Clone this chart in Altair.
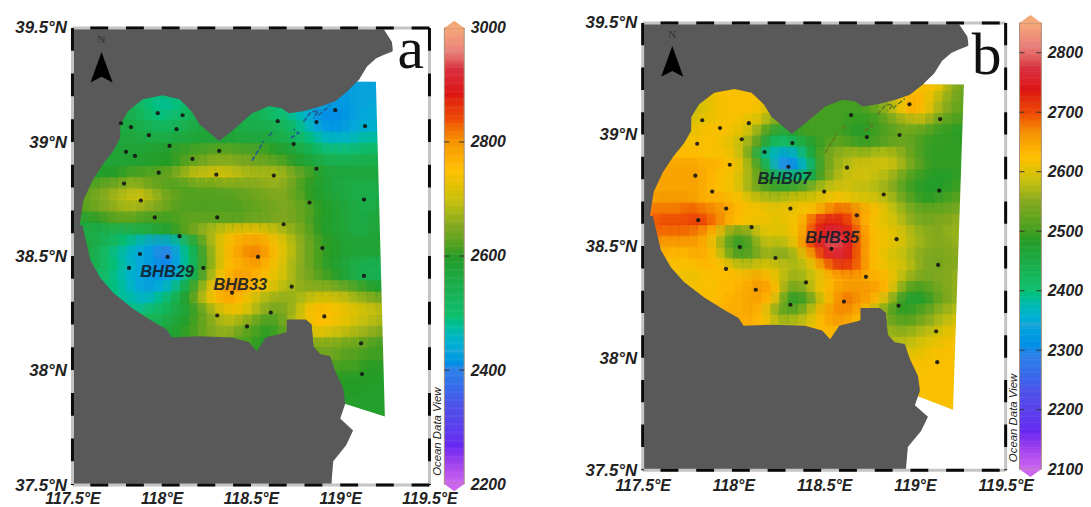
import altair as alt
import pandas as pd

FONT = "Liberation Sans"
LAND = "#595959"

# ---- gridded values (tens of metres), rows: (lat, first lon, values every 0.05 deg)
GRID_A = [
 (39.25,119.00,[243,243,243,243,243,244,244]),
 (39.20,117.90,[250,249,249,250,251]),
 (39.20,119.00,[242,242,243,243,243,244,244]),
 (39.15,117.80,[254,253,251,249,248,248,249,251,253]),
 (39.15,118.55,[252,250,249,248,246,245,244,243,242,242,242,243,243,244,244,245]),
 (39.10,117.75,[256,256,254,252,250,249,250,251,253,255,256,256,256,256,255,254,254,252,251,250,248,246,243,241,241,241,242,243,244,244,245,245]),
 (39.05,117.75,[256,256,256,255,254,253,253,254,255,256,257,257,257,257,256,255,255,255,254,253,251,248,245,243,242,242,243,244,245,245,246,246]),
 (39.00,117.70,[257,257,257,257,256,256,256,256,257,257,258,258,258,258,258,257,257,257,257,256,255,253,251,249,247,246,246,246,247,248,248,249,249]),
 (38.95,117.70,[258,258,258,258,258,259,259,260,261,261,262,262,263,263,263,262,262,262,261,260,259,258,256,254,252,250,250,250,251,252,252,253,253]),
 (38.90,117.65,[258,258,258,258,259,259,259,260,260,261,263,264,265,266,266,266,265,265,264,264,263,262,260,259,257,256,255,255,255,255,255,255,256,256]),
 (38.85,117.60,[258,259,260,260,261,262,262,263,263,264,266,268,270,270,271,271,270,269,268,268,268,268,267,265,263,261,259,258,257,257,257,257,257,257,257]),
 (38.80,117.60,[262,263,264,265,266,267,266,264,263,262,262,262,263,263,263,264,264,264,265,265,266,266,265,263,261,260,258,257,256,256,255,255,255,256,256]),
 (38.75,117.55,[262,264,265,266,268,269,270,270,268,266,264,263,262,262,262,262,262,262,263,263,264,264,265,265,263,262,260,259,258,257,256,255,255,255,256,256]),
 (38.70,117.55,[262,263,264,265,266,267,267,266,265,264,263,262,262,262,262,262,262,262,262,263,263,264,264,265,264,263,262,260,259,258,257,256,255,256,257,257]),
 (38.65,117.55,[258,259,260,261,262,262,262,261,261,261,261,262,263,263,263,263,263,263,263,264,264,264,265,265,264,263,261,260,259,258,257,256,256,257,258,258]),
 (38.60,117.55,[256,255,254,254,253,253,254,255,256,257,259,261,263,265,267,269,271,273,274,274,274,272,270,268,266,264,262,260,259,258,257,256,256,257,258,258]),
 (38.55,117.60,[257,255,253,251,249,247,245,243,243,244,247,252,258,264,269,273,276,278,279,279,277,274,271,268,265,263,261,260,259,258,258,258,258,259,259]),
 (38.50,117.60,[256,253,250,248,246,244,243,242,240,240,244,249,255,262,268,273,277,279,281,281,278,274,271,268,265,263,261,260,259,258,257,257,257,258,258]),
 (38.45,117.65,[254,251,249,247,245,243,242,241,241,244,249,255,262,268,273,276,277,278,278,276,273,270,267,265,263,261,259,258,256,255,254,254,254,255]),
 (38.40,117.70,[250,248,246,244,243,242,242,243,246,251,257,264,270,275,278,279,278,276,274,272,270,267,265,264,262,261,259,257,255,254,254,254,255]),
 (38.35,117.75,[249,247,245,243,243,245,247,251,257,263,269,275,279,280,279,276,274,272,270,268,267,266,266,266,266,265,264,262,261,260,259,259]),
 (38.30,117.80,[248,247,246,247,249,252,256,260,265,270,274,277,277,275,272,269,267,266,266,267,269,271,272,272,271,270,268,267,266,265,264]),
 (38.25,117.90,[250,251,252,254,256,258,261,264,268,271,273,272,270,267,265,264,265,268,272,275,276,275,274,273,272,271,270,269,268]),
 (38.20,118.00,[255,257,258,260,262,264,266,268,268,266,264,262,261,262,265,269,272,274,275,274,273,272,270,269,268,267,266]),
 (38.15,118.00,[256,258,259,261,262,264,265,266,265,263,262,261,260,261,263,266,268,270,271,270,269,268,267,266,265,264,263]),
 (38.10,118.50,[261,260,260,261,262,263,264,264,264,264,264,263,263,262,261,261,260]),
 (38.05,118.85,[264,264,264,263,262,262,261,261,261,260]),
 (38.00,118.90,[262,262,261,261,261,260,260,260,260]),
 (37.95,118.95,[260,260,260,260,260,260,259,259]),
 (37.90,119.00,[260,260,260,259,259,259,259]),
 (37.85,119.00,[259,259,259,259,259,259,259]),
 (37.80,119.10,[259,259,259,259,259]),
]
GRID_B = [
 (39.20,117.90,[261,262,262,262,262]),
 (39.20,119.00,[262,262,262,260,256,254,253]),
 (39.15,117.80,[259,260,261,262,262,262,262,262,260]),
 (39.15,118.55,[250,250,250,250,252,254,256,259,262,264,263,260,257,255,253,252]),
 (39.10,117.75,[258,259,260,261,262,262,262,262,261,259,257,255,253,252,251,250,250,250,250,250,251,253,256,259,262,264,262,259,256,254,252,252]),
 (39.05,117.75,[260,260,261,261,262,262,261,260,259,256,253,251,250,250,250,250,250,250,249,249,249,250,252,254,256,257,257,255,252,251,250,250]),
 (39.00,117.70,[261,261,261,262,262,262,261,260,258,254,249,246,246,248,250,250,250,250,250,249,248,249,250,251,252,253,252,251,250,249,249,248,248]),
 (38.95,117.70,[262,262,262,262,262,261,260,258,255,250,244,240,241,243,245,248,250,252,252,251,250,250,251,252,253,253,252,250,249,249,249,249,249]),
 (38.90,117.65,[263,263,263,263,262,262,262,261,258,252,243,238,235,233,236,241,247,252,255,256,257,257,257,258,258,257,255,252,250,249,249,249,249,250]),
 (38.85,117.60,[264,265,265,265,265,264,264,263,262,260,256,250,242,234,229,231,237,244,251,255,257,258,259,259,259,259,258,256,253,251,249,249,249,249,250]),
 (38.80,117.60,[265,265,265,265,265,264,263,262,261,259,256,252,247,243,241,241,243,247,252,256,258,259,259,259,258,257,255,252,250,249,248,248,248,249,250]),
 (38.75,117.55,[264,265,265,265,265,265,264,263,262,261,259,256,253,251,250,250,251,253,256,258,259,259,259,258,258,257,256,254,251,249,248,248,248,249,250,251]),
 (38.70,117.55,[265,266,266,266,266,265,264,264,264,263,262,260,259,258,258,259,260,260,260,261,262,262,261,260,260,259,258,256,253,251,249,249,250,251,252,252]),
 (38.65,117.55,[268,268,268,268,269,269,268,267,266,264,263,262,262,261,261,261,261,262,263,266,268,269,268,266,264,262,260,258,256,254,253,253,253,254,254,255]),
 (38.60,117.55,[268,270,270,270,270,271,270,268,266,263,262,261,261,261,260,261,262,265,270,274,274,273,270,266,263,261,260,259,257,255,254,254,255,255,256,256]),
 (38.55,117.60,[268,268,268,268,267,265,262,258,253,252,255,259,260,260,260,262,266,271,275,277,276,273,268,264,262,261,260,259,257,256,255,255,256,256,257]),
 (38.50,117.60,[265,265,265,265,265,264,260,255,250,249,251,256,258,257,258,261,267,272,276,279,278,274,268,264,262,261,260,259,257,256,255,255,255,256,257]),
 (38.45,117.65,[263,263,263,264,264,262,258,253,251,252,255,256,255,255,257,261,266,272,275,276,273,268,264,262,260,259,258,256,255,254,254,255,255,256]),
 (38.40,117.70,[262,262,262,263,263,262,261,259,259,260,260,259,258,257,258,261,265,269,271,270,268,264,262,261,260,259,257,255,254,254,255,255,256]),
 (38.35,117.75,[261,261,262,262,263,263,263,264,265,263,260,257,256,257,259,261,263,264,265,265,264,264,263,260,257,255,254,254,255,255,256,256]),
 (38.30,117.80,[262,262,262,263,263,264,265,266,265,262,255,253,255,259,262,264,266,266,266,266,265,263,258,253,250,250,252,254,255,256,257]),
 (38.25,117.90,[263,263,264,264,265,265,263,258,250,248,250,255,260,264,267,268,266,265,262,258,252,248,247,248,250,253,255,256,257]),
 (38.20,118.00,[264,264,265,263,259,254,252,253,256,260,264,266,267,266,264,261,257,253,250,249,250,252,254,256,257,258,258]),
 (38.15,118.00,[264,264,264,263,261,258,257,258,259,261,263,265,265,264,262,260,258,255,253,252,253,255,256,258,259,260,260]),
 (38.10,118.50,[263,263,262,261,260,259,258,257,256,256,257,258,259,260,261,261,262]),
 (38.05,118.85,[258,258,258,259,260,261,261,262,262,262]),
 (38.00,118.90,[260,260,261,261,262,262,262,262,262]),
 (37.95,118.95,[262,262,262,262,262,262,262,262]),
 (37.90,119.00,[262,262,262,262,262,262,262]),
 (37.85,119.00,[262,262,262,262,262,262,262]),
 (37.80,119.10,[262,262,262,262,262]),
]

STATIONS_A = [(117.772,39.083),(117.828,39.066),(117.978,39.127),(118.117,39.118),(118.083,39.057),(117.928,39.031),
 (118.044,38.984),(117.800,38.958),(117.850,38.940),(118.172,38.927),(118.322,38.962),(117.983,38.867),(118.306,38.858),
 (117.789,38.819),(117.883,38.745),(117.961,38.671),(118.311,38.671),(118.100,38.589),(117.878,38.511),(118.033,38.498),
 (118.539,38.498),(117.817,38.450),(118.233,38.450),(118.394,38.342),(118.311,38.242),(118.478,38.194),(118.650,39.092),
 (118.867,39.088),(118.972,39.140),(119.139,39.070),(118.739,38.992),(118.628,38.854),(118.867,38.884),(118.828,38.736),
 (119.133,38.749),(118.683,38.641),(118.900,38.537),(119.133,38.415),(118.728,38.368),(118.611,38.255),(118.911,38.238),
 (119.117,38.120),(119.122,37.986)]
STATIONS_B = [(117.828,39.065),(117.926,39.030),(118.085,39.052),(118.046,38.980),(117.800,38.960),(118.172,38.923),
 (118.325,38.963),(118.303,38.857),(117.980,38.866),(117.790,38.817),(117.883,38.746),(117.960,38.670),(118.314,38.670),
 (117.806,38.618),(118.100,38.587),(118.035,38.498),(118.232,38.449),(118.500,38.746),(118.648,39.088),(118.970,39.136),
 (119.139,39.070),(118.735,38.990),(118.915,38.999),(118.626,38.853),(118.828,38.733),(119.134,38.750),(118.680,38.640),
 (118.899,38.533),(118.540,38.490),(119.128,38.418),(118.730,38.365),(118.609,38.254),(118.910,38.236),(119.117,38.121),
 (119.123,37.983),(117.959,38.400),(118.123,38.307),(118.400,38.340),(118.314,38.240)]

LABELS_A = [("BHB29",118.03,38.43),("BHB33",118.44,38.376)]
LABELS_B = [("BHB07",118.28,38.80),("BHB35",118.544,38.54)]

# ---- coastlines
COAST_N_LON = [117.5,117.54,117.561,117.611,117.672,117.728,117.767,117.768,117.811,117.894,118.006,118.1,118.167,118.211,118.322,118.394,118.506,118.6,118.672,118.711,118.794,118.894,118.972,119.039,119.106,119.15,119.2,119.239,119.289,119.294]
COAST_N_LAT = [38.637,38.637,38.745,38.832,38.906,38.962,39.018,39.079,39.136,39.188,39.205,39.188,39.136,39.079,39.005,39.049,39.127,39.157,39.149,39.127,39.136,39.157,39.179,39.222,39.274,39.331,39.366,39.38,39.396,39.40]
COAST_N_TOP = [39.5]*27 + [39.5,39.44,39.41]
COAST_S_LON = [117.5,117.556,117.6,117.656,117.728,117.839,117.95,118.028,118.056,118.211,118.394,118.489,118.533,118.583,118.694,118.75,118.806,118.839,118.85]
COAST_S_LAT = [38.637,38.637,38.485,38.407,38.342,38.272,38.216,38.181,38.146,38.151,38.146,38.125,38.086,38.146,38.168,38.203,38.225,38.203,38.107]
EAST_LAT = [38.225,38.203,38.107,38.072,38.064,37.999,37.921,37.856,37.791,37.739,37.674,37.604,37.5]
EAST_LON = [118.806,118.839,118.85,118.889,118.944,118.972,119.017,119.028,119.0,119.072,119.033,118.961,118.95]

ISLANDS = [
 (0,118.506,38.919),(0,118.572,39.005),(1,118.6,39.027),(1,118.628,39.049),
 (2,118.722,39.018),(2,118.767,39.04),(2,118.739,39.057),
 (3,118.794,39.09),(3,118.839,39.135),(3,118.878,39.135),(3,118.85,39.105),
 (4,118.878,39.118),(4,118.944,39.162),
]

# ---- colour bars
COLORS = ["#cc66f0","#6828f0","#5050e8","#3080e8","#20a8d8","#10c070","#259c25","#80a820","#c8c010","#ffc000","#f59500","#ee4a05","#dd1510","#d83040","#e8807c","#f4a878"]
STOPS_A = [2200,2267,2336,2400,2435,2493,2600,2651,2697,2750,2800,2840,2883,2929,2958,3000]
STOPS_B = [2100,2163,2229,2290,2345,2400,2485,2547,2585,2624,2663,2697,2736,2775,2811,2850]
TICKS_A = [2200,2400,2600,2800,3000]
TICKS_B = [2100,2200,2300,2400,2500,2600,2700,2800]


def cells(rows, grow=0.0):
    out = []
    for lat, start, vals in rows:
        n = len(vals)
        for i, v in enumerate(vals):
            lon = start + i * 0.05
            x0 = max(117.5, lon - (0.15 if i == 0 else 0.026 + grow))
            x1 = lon + (0.1 if i == n - 1 else 0.026 + grow)
            out.append(dict(x0=x0, x1=x1, y0=lat-0.026-grow, y1=lat+0.026+grow, v=v*10))
    return pd.DataFrame(out)


def panel(grid, stations, labels, stops, ticks, letter, letter_lat, view_w, x_rng, y_rng, cb_rng, cb_x, edge, axis_off, dash_v, island_col):
    X = lambda f, **k: alt.X(f, type="quantitative", scale=alt.Scale(domain=[117.5,119.5], range=x_rng, nice=False, zero=False), title=None, **k)
    Y = lambda f, **k: alt.Y(f, type="quantitative", scale=alt.Scale(domain=[37.5,39.5], range=y_rng, nice=False, zero=False), title=None, **k)
    NOX = dict(axis=None)
    color = alt.Color("v:Q", scale=alt.Scale(domain=stops, range=COLORS), legend=None)

    lab = dict(labelFont=FONT, labelFontStyle="italic", labelFontWeight="bold", labelColor="#222222",
               domain=False, ticks=False, grid=False, labelFlush=False, labelOverlap=False)
    bg = alt.Chart(pd.DataFrame(dict(a=[117.5],b=[119.5],c=[37.5],d=[39.5]))).mark_rect(color=LAND, opacity=1).encode(
        x=X("a", axis=alt.Axis(values=[117.5,118,118.5,119,119.5], labelExpr="datum.value+'°E'", labelPadding=0, offset=axis_off, labelBaseline="top", labelFontSize=16, **lab)),
        x2="b",
        y=Y("c", axis=alt.Axis(values=[37.5,38,38.5,39,39.5], labelExpr="datum.value+'°N'", labelPadding=6, labelFontSize=17, **lab)),
        y2="d")
    heat = alt.Chart(cells(grid)).mark_rect().encode(x=X("x0",**NOX), x2="x1", y=Y("y0",**NOX), y2="y1", color=color)
    soft = alt.Chart(cells(grid, 0.02)).mark_rect(opacity=0.5).encode(x=X("x0",**NOX), x2="x1", y=Y("y0",**NOX), y2="y1", color=color)

    ew = pd.DataFrame(dict(lat=edge["lat"], lon=edge["lon"], r=[119.5]*len(edge["lat"])))
    white1 = alt.Chart(ew).mark_area(color="white", orient="horizontal", opacity=1).encode(x=X("lon",**NOX), x2="r", y=Y("lat",**NOX))
    es = pd.DataFrame(dict(lon=edge["slon"], lat=edge["slat"], b=[37.5]*len(edge["slon"])))
    white2 = alt.Chart(es).mark_area(color="white", orient="vertical", opacity=1).encode(x=X("lon",**NOX), y=Y("lat",**NOX), y2="b")

    nd = pd.DataFrame(dict(lon=COAST_N_LON, lat=COAST_N_LAT, top=COAST_N_TOP))
    land_n = alt.Chart(nd).mark_area(color=LAND, orient="vertical", opacity=1).encode(x=X("lon",**NOX), y=Y("lat",**NOX), y2="top")
    sd = pd.DataFrame(dict(lon=COAST_S_LON, lat=COAST_S_LAT, b=[37.5]*len(COAST_S_LON)))
    land_s = alt.Chart(sd).mark_area(color=LAND, orient="vertical", opacity=1).encode(x=X("lon",**NOX), y=Y("lat",**NOX), y2="b")
    ed = pd.DataFrame(dict(lat=EAST_LAT, lon=EAST_LON, l=[118.7]*len(EAST_LAT)))
    land_e = alt.Chart(ed).mark_area(color=LAND, orient="horizontal", opacity=1).encode(x=X("lon",**NOX), x2="l", y=Y("lat",**NOX))

    isl = pd.DataFrame([dict(g=g, lon=a, lat=b, i=i) for i,(g,a,b) in enumerate(ISLANDS)])
    islands = alt.Chart(isl).mark_line(color=island_col, strokeWidth=1.6, strokeDash=[5,2]).encode(
        x=X("lon",**NOX), y=Y("lat",**NOX), detail="g:N", order="i:Q")

    dots = alt.Chart(pd.DataFrame(stations, columns=["lon","lat"])).mark_circle(color="#151515", size=18, opacity=0.9).encode(
        x=X("lon",**NOX), y=Y("lat",**NOX))
    labs = alt.Chart(pd.DataFrame(labels, columns=["t","lon","lat"])).mark_text(font=FONT, fontSize=16.5, fontStyle="italic", fontWeight="bold", color="#14202a", opacity=0.9).encode(
        x=X("lon",**NOX), y=Y("lat",**NOX), text="t:N")

    hd = pd.DataFrame(dict(a=[117.5,117.5], b=[119.5,119.5], lat=[39.5,37.5]))
    vd = pd.DataFrame(dict(lon=[117.5,119.5], a=[39.5,39.5], b=[37.5,37.5]))
    h0 = alt.Chart(hd).mark_rule(color="#c4c4c4", strokeWidth=3).encode(x=X("a",**NOX), x2="b", y=Y("lat",**NOX))
    h1 = alt.Chart(hd).mark_rule(color="#0a0a0a", strokeWidth=3, strokeDash=[18,18], strokeDashOffset=18).encode(x=X("a",**NOX), x2="b", y=Y("lat",**NOX))
    v0 = alt.Chart(vd).mark_rule(color="#c4c4c4", strokeWidth=3).encode(y=Y("a",**NOX), y2="b", x=X("lon",**NOX))
    v1 = alt.Chart(vd).mark_rule(color="#0a0a0a", strokeWidth=3, strokeDash=[dash_v,dash_v]).encode(y=Y("a",**NOX), y2="b", x=X("lon",**NOX))

    arrow = alt.Chart(pd.DataFrame(dict(lon=[117.663], lat=[39.328]))).mark_point(
        shape="M0,-1 L0.72,1 L0,0.62 L-0.72,1 Z", size=961, filled=True, color="#000000", opacity=1).encode(x=X("lon",**NOX), y=Y("lat",**NOX))
    north = alt.Chart(pd.DataFrame(dict(lon=[117.663], lat=[39.445], t=["N"]))).mark_text(
        font="Liberation Serif", fontSize=11, color="#333333").encode(x=X("lon",**NOX), y=Y("lat",**NOX), text="t:N")
    tag = alt.Chart(pd.DataFrame(dict(lon=[119.395], lat=[letter_lat], t=[letter]))).mark_text(
        font="Liberation Serif", fontSize=60, color="#111111", baseline="alphabetic").encode(x=X("lon",**NOX), y=Y("lat",**NOX), text="t:N")

    # colour bar
    lo, hi = stops[0], stops[-1]
    Yc = lambda f, **k: alt.Y(f, type="quantitative", scale=alt.Scale(domain=[lo,hi], range=cb_rng, nice=False, zero=False), title=None, **k)
    steps = list(range(lo, hi, 2))
    cbd = pd.DataFrame(dict(v0=steps, v1=[s+3 for s in steps], v=[s+1 for s in steps]))
    xa, xb = cb_x
    cb = alt.Chart(cbd).mark_rect().encode(x=alt.value(xa), x2=alt.value(xb), y=Yc("v0", axis=alt.Axis(
        orient="right", values=ticks, format="d", labelPadding=6, labelFont=FONT, labelFontSize=16, labelFontStyle="italic", labelFontWeight="bold",
        labelColor="#222222", domain=False, ticks=False, grid=False)), y2="v1", color=color)
    border = alt.Chart(pd.DataFrame(dict(a=[lo], b=[hi]))).mark_rect(fillOpacity=0, stroke="#a88f78", strokeWidth=1).encode(
        x=alt.value(xa), x2=alt.value(xb), y=Yc("a", axis=None), y2="b")
    td = pd.DataFrame(dict(t=[t for t in ticks if lo < t < hi]))
    t1 = alt.Chart(td).mark_rule(color="#333333", strokeWidth=1).encode(x=alt.value(xa), x2=alt.value(xa+5), y=Yc("t", axis=None))
    t2 = alt.Chart(td).mark_rule(color="#333333", strokeWidth=1).encode(x=alt.value(xb-5), x2=alt.value(xb), y=Yc("t", axis=None))
    w = xb - xa
    cap_t = alt.Chart(pd.DataFrame(dict(a=[hi]))).mark_point(shape="M-1,0 L0,-0.72 L1,0 Z", size=w*w, filled=True, color=COLORS[-1], opacity=1).encode(
        x=alt.value((xa+xb)/2), y=Yc("a", axis=None))
    cap_b = alt.Chart(pd.DataFrame(dict(a=[lo]))).mark_point(shape="M-1,0 L0,0.72 L1,0 Z", size=w*w, filled=True, color=COLORS[0], opacity=1).encode(
        x=alt.value((xa+xb)/2), y=Yc("a", axis=None))
    odv = alt.Chart(pd.DataFrame(dict(t=["Ocean Data View"], a=[lo+(hi-lo)*0.115]))).mark_text(
        font=FONT, fontSize=11.5, fontStyle="italic", angle=270, color="#222222", baseline="middle").encode(x=alt.value(xa-6), y=Yc("a", axis=None), text="t:N")

    return alt.layer(bg, heat, soft, white1, white2, land_n, land_s, land_e, islands, dots, labs, h0, v0, h1, v1, arrow, north, tag,
                     cb, border, t1, t2, cap_t, cap_b, odv).resolve_scale(y="independent", color="independent").resolve_axis(x="independent").properties(width=view_w, height=482)


edge_a = dict(lat=[39.5,39.266,39.265,37.8,37.5], lon=[119.05,119.05,119.2,119.25,119.25],
              slon=[118.95,119.03,119.25,119.3], slat=[37.885,37.855,37.8,37.8])
edge_b = dict(lat=[39.5,39.226,39.225,37.77,37.5], lon=[119.05,119.05,119.27,119.21,119.21],
              slon=[118.95,119.02,119.21,119.26], slat=[37.855,37.83,37.77,37.77])

pa = panel(GRID_A, STATIONS_A, LABELS_A, STOPS_A, TICKS_A, "a", 39.326, 395, [0,360], [475,14], [474,14], (375,395), edge_a, -1, 23, "#1f5f90")
pb = panel(GRID_B, STATIONS_B, LABELS_B, STOPS_B, TICKS_B, "b", 39.27, 402, [0,366], [460,9], [459,9], (380,402), edge_b, -15, 22.5, "#5f7a20")

chart = alt.hconcat(pa, pb, spacing=79).properties(padding={"left":6,"top":4,"right":0,"bottom":0}, background="white").configure_view(stroke=None)

chart.save("out.html", embed_options={"renderer": "svg", "actions": False})
